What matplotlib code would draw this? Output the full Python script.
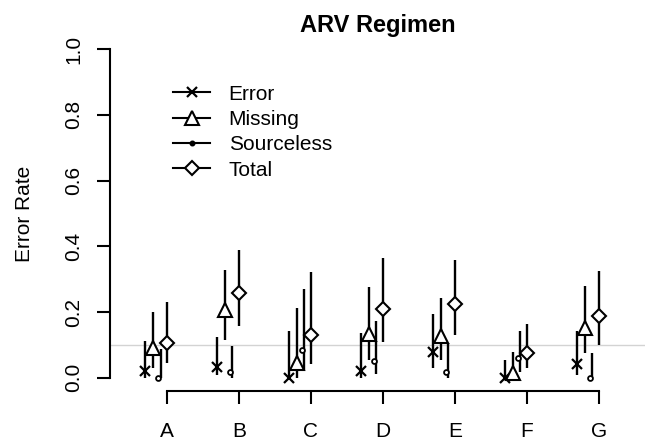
import numpy as np
import matplotlib
matplotlib.use("Agg")
import matplotlib.pyplot as plt
from matplotlib.lines import Line2D

plt.rcParams['font.family'] = ['Liberation Sans', 'DejaVu Sans']
plt.rcParams['font.size'] = 15

# categories and estimated rates (value, lower, upper)
cats = ['A', 'B', 'C', 'D', 'E', 'F', 'G']

err = [0.020, 0.034, 0.000, 0.022, 0.080, 0.000, 0.042]
err_lo = [0.000, 0.009, 0.000, 0.000, 0.030, 0.000, 0.009]
err_hi = [0.112, 0.125, 0.144, 0.136, 0.194, 0.055, 0.141]

miss = [0.090, 0.207, 0.045, 0.134, 0.126, 0.016, 0.151]
miss_lo = [0.030, 0.115, 0.000, 0.055, 0.055, 0.000, 0.075]
miss_hi = [0.200, 0.328, 0.212, 0.275, 0.244, 0.080, 0.278]

src = [0.000, 0.018, 0.085, 0.052, 0.019, 0.060, 0.000]
src_lo = [0.000, 0.000, 0.024, 0.011, 0.000, 0.019, 0.000]
src_hi = [0.088, 0.098, 0.270, 0.173, 0.105, 0.144, 0.077]

tot = [0.107, 0.257, 0.129, 0.210, 0.224, 0.075, 0.189]
tot_lo = [0.045, 0.159, 0.043, 0.108, 0.129, 0.030, 0.100]
tot_hi = [0.230, 0.389, 0.321, 0.364, 0.360, 0.163, 0.326]

fig = plt.figure(figsize=(6.45, 4.41), dpi=100)
ax = fig.add_axes([0.1705, 0.1134, 0.8295, 0.805])

x = np.arange(1, len(cats) + 1)

ax.axhline(0.1, color='#d3d3d3', lw=1, zorder=0)

err_style = dict(marker='x', ms=7.5, mew=1.6, mec='black')
miss_style = dict(marker='^', ms=9.5, mew=1.5, mfc='white', mec='black')
tot_style = dict(marker='D', ms=7, mew=1.5, mfc='white', mec='black')

# (values, lo, hi, offset, marker style)
series = [
    (err, err_lo, err_hi, -0.30, err_style),
    (miss, miss_lo, miss_hi, -0.20, miss_style),
    (tot, tot_lo, tot_hi, 0.0, tot_style),
]
for vals, lo, hi, off, st in series:
    ax.vlines(x + off, lo, hi, color='black', lw=1.7, zorder=2)
    ax.plot(x + off, vals, ls='none', zorder=3, **st)

# sourceless: dot sits slightly left of its bar
ax.vlines(x - 0.09, src_lo, src_hi, color='black', lw=1.7, zorder=2)
ax.plot(x - 0.13, src, ls='none', marker='o', ms=3.5, mew=1.3, mfc='white', mec='black', zorder=3)

ax.set_xlim(0.208, 7.64)
ax.set_ylim(-0.04, 1.04)

for s in ['top', 'right']:
    ax.spines[s].set_visible(False)
ax.spines['left'].set_bounds(0, 1)
ax.spines['bottom'].set_bounds(1, 7)
ax.spines['left'].set_linewidth(1.5)
ax.spines['bottom'].set_linewidth(1.5)

ax.set_xticks(x)
ax.set_xticklabels(cats)
ax.set_yticks(np.arange(0, 1.01, 0.2))
ax.set_yticklabels(['%.1f' % v for v in np.arange(0, 1.01, 0.2)], rotation=90, va='center')
ax.tick_params(axis='both', length=9.5, width=1.5, direction='out')
ax.tick_params(axis='y', pad=9.5)
ax.tick_params(axis='x', pad=12.5)

ax.set_ylabel('Error Rate', labelpad=22)
fig.text(0.585, 0.942, 'ARV Regimen', ha='center', va='center', fontsize=17, fontweight='bold')

handles = [
    Line2D([], [], color='black', lw=1.5, **err_style),
    Line2D([], [], color='black', lw=1.5, **miss_style),
    Line2D([], [], color='black', lw=1.5, marker='o', ms=3, mew=1.3, mfc='black', mec='black'),
    Line2D([], [], color='black', lw=1.5, **tot_style),
]
ax.legend(handles, ['Error', 'Missing', 'Sourceless', 'Total'], loc='upper left',
          bbox_to_anchor=(0.103, 0.886), frameon=False, handlelength=1.75,
          handletextpad=0.9, labelspacing=0.3, borderaxespad=0)

fig.savefig('out.png', dpi=100)
